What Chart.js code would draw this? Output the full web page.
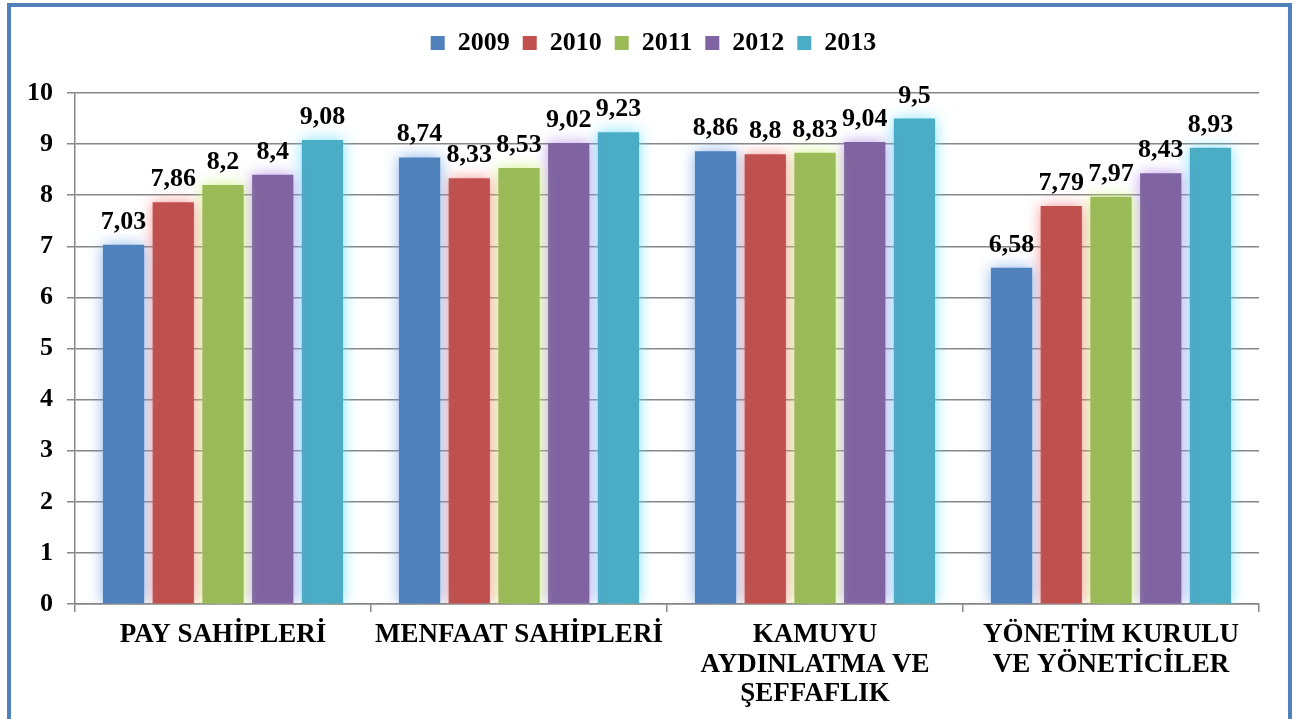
<!DOCTYPE html>
<html>
<head>
<meta charset="utf-8">
<script src="https://cdn.jsdelivr.net/npm/chart.js@4"></script>
<style>
  body { margin: 0; background: #fff; }
  #wrap { position: relative; width: 1306px; height: 719px; overflow: hidden; }
  #frame { position: absolute; left: 7px; top: 3px; width: 1277px; height: 760px; border: 4px solid #4F81BD; }
  canvas { position: absolute; left: 0; top: 0; }
</style>
</head>
<body>
<div id="wrap">
  <div id="frame"></div>
  <canvas id="myChart" width="1306" height="719"></canvas>
</div>
<script>
const categories = [
  "PAY SAHİPLERİ",
  "MENFAAT SAHİPLERİ",
  ["KAMUYU", "AYDINLATMA VE", "ŞEFFAFLIK"],
  ["YÖNETİM KURULU", "VE YÖNETİCİLER"],
];
const years = ["2009", "2010", "2011", "2012", "2013"];
const v2009 = [7.03, 8.74, 8.86, 6.58];
const v2010 = [7.86, 8.33, 8.8, 7.79];
const v2011 = [8.2, 8.53, 8.83, 7.97];
const v2012 = [8.4, 9.02, 9.04, 8.43];
const v2013 = [9.08, 9.23, 9.5, 8.93];
const colors = ["#4F81BD", "#C0504D", "#9BBB59", "#8064A2", "#4BACC6"];
const glows = [
  "rgba(110,160,230,0.8)",
  "rgba(245,120,120,0.8)",
  "rgba(200,240,110,0.85)",
  "rgba(170,130,230,0.8)",
  "rgba(100,220,255,0.85)",
];

const serif = "'Liberation Serif', 'Times New Roman', serif";
const values = [v2009, v2010, v2011, v2012, v2013];

// fixed legend height so the plot starts where the reference does
const legendHeight = {
  id: "legendHeight",
  beforeInit(chart) {
    const fit = chart.legend.fit;
    chart.legend.fit = function () {
      fit.bind(chart.legend)();
      this.height = 76;
    };
  },
  afterLayout(chart) {
    // legend sits a bit right of the plot centre in the original
    chart.legend.left += 20;
    chart.legend.right += 20;
  },
};

const glowPlugin = {
  id: "glow",
  beforeDatasetDraw(chart, args) {
    const ctx = chart.ctx;
    ctx.save();
    ctx.shadowColor = glows[args.index];
    ctx.shadowBlur = 14;
  },
  afterDatasetDraw(chart) {
    chart.ctx.restore();
  },
};

const labelPlugin = {
  id: "valueLabels",
  afterDatasetsDraw(chart) {
    const ctx = chart.ctx;
    ctx.save();
    ctx.font = "bold 26px " + serif;
    ctx.fillStyle = "#000";
    ctx.textAlign = "center";
    ctx.textBaseline = "alphabetic";
    chart.data.datasets.forEach((ds, i) => {
      chart.getDatasetMeta(i).data.forEach((bar, j) => {
        const txt = String(ds.data[j]).replace(".", ",");
        ctx.fillText(txt, bar.x, bar.y - 16);
      });
    });
    ctx.restore();
  },
};

new Chart(document.getElementById("myChart"), {
  type: "bar",
  data: {
    labels: categories,
    datasets: years.map((y, i) => ({
      label: y,
      data: values[i],
      backgroundColor: colors[i],
      borderWidth: 0,
    })),
  },
  options: {
    responsive: false,
    animation: false,
    categoryPercentage: 0.84,
    barPercentage: 0.83,
    layout: { padding: { top: 17, left: 8, right: 47, bottom: 0 } },
    plugins: {
      legend: {
        labels: {
          boxWidth: 14,
          boxHeight: 14,
          padding: 13,
          color: "#000",
          font: { family: serif, size: 26, weight: "bold" },
        },
      },
      tooltip: { enabled: false },
    },
    scales: {
      x: {
        grid: { drawOnChartArea: false, color: "#868686", tickLength: 8, lineWidth: 1.5 },
        border: { color: "#868686", width: 1.5 },
        ticks: {
          color: "#000",
          padding: 8,
          maxRotation: 0,
          font: { family: serif, size: 27, weight: "bold", lineHeight: 1.1 },
        },
        afterFit(scale) { scale.height = 115; },
      },
      y: {
        min: 0,
        max: 10,
        ticks: {
          stepSize: 1,
          color: "#000",
          padding: 14,
          font: { family: serif, size: 26, weight: "bold" },
        },
        grid: { color: "#868686", tickLength: 8, lineWidth: 1.5 },
        border: { color: "#868686", width: 1.5 },
        afterFit(scale) { scale.width = 67; },
      },
    },
  },
  plugins: [legendHeight, glowPlugin, labelPlugin],
});
</script>
</body>
</html>
